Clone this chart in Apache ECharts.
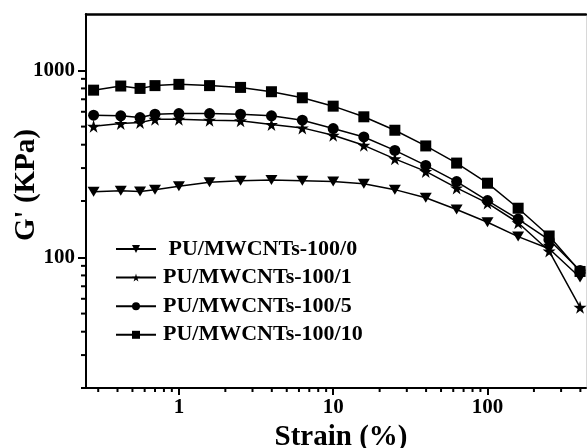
<!DOCTYPE html>
<html><head><meta charset="utf-8">
<script src="https://cdn.jsdelivr.net/npm/echarts@6/dist/echarts.min.js"></script>
<style>html,body{margin:0;padding:0;background:#fff}#c{width:587px;height:448px}</style>
</head><body><div id="c"></div>
<script>
// ---- data ----
const strain = [0.28, 0.42, 0.56, 0.70, 1.0, 1.58, 2.51, 3.98, 6.31, 10, 15.8, 25.1, 39.8, 63.1, 100, 158, 251, 398];
const g_100_0  = [224, 227, 225, 230, 240, 252, 257, 259, 257, 254, 247, 230, 208, 180, 154, 129, 111, 78];
const g_100_1  = [502, 519, 525, 547, 547, 541, 537, 513, 492, 449, 397, 336, 288, 235, 195, 153, 108, 54];
const g_100_5  = [575, 571, 559, 582, 587, 587, 582, 571, 541, 488, 440, 373, 310, 254, 201, 160, 124, 85];
const g_100_10 = [783, 824, 800, 828, 841, 828, 810, 768, 713, 643, 564, 478, 394, 319, 249, 183, 130, 84];
const seriesNames = ['PU/MWCNTs-100/0', 'PU/MWCNTs-100/1', 'PU/MWCNTs-100/5', 'PU/MWCNTs-100/10'];
const xMajorTicks = [1, 10, 100];
const xMinorTicks = [0.3, 0.4, 0.5, 0.6, 0.7, 0.8, 0.9, 2, 3, 4, 5, 6, 7, 8, 9, 20, 30, 40, 50, 60, 70, 80, 90, 200, 300, 400];
const yMajorTicks = [100, 1000];
const yMinorTicks = [20, 30, 40, 50, 60, 70, 80, 90, 200, 300, 400, 500, 600, 700, 800, 900];
const xRange = [0.25, 435];
const yRange = [20, 2000];
const xTitle = 'Strain (%)';
const yTitle = "G' (KPa)";

// ---- chart ----
const FONT = '"Liberation Serif", "Times New Roman", serif';
const starPath = 'path://M50,0 L61,35 L98,35 L68,57 L79,91 L50,70 L21,91 L32,57 L2,35 L39,35 Z';
const symbols = [
  {symbol: 'triangle', symbolSize: [12, 10], symbolRotate: 180},
  {symbol: starPath, symbolSize: 13, symbolRotate: 0},
  {symbol: 'circle', symbolSize: 11, symbolRotate: 0},
  {symbol: 'rect', symbolSize: 11, symbolRotate: 0}
];
const allData = [g_100_0, g_100_1, g_100_5, g_100_10];

const labelStyle = {fontFamily: FONT, fontWeight: 'bold', fontSize: 21, color: '#000'};
const blackLine = {color: '#000', width: 2};
const plainNum = v => String(v);

function baseAxis(extra) {
  return Object.assign({
    type: 'log', logBase: 10,
    splitLine: {show: false},
    minorTick: {show: false},
    minorSplitLine: {show: false}
  }, extra);
}

const chart = echarts.init(document.getElementById('c'), null, {renderer: 'canvas'});
chart.setOption({
  animation: false,
  backgroundColor: '#fff',
  grid: {left: 86, top: 14, right: 1, bottom: 60, containLabel: false, outerBoundsMode: 'none'},
  legend: {
    orient: 'vertical', left: 110, top: 233,
    itemWidth: 40, itemHeight: 10, itemGap: 6.6,
    selectedMode: false,
    textStyle: {fontFamily: FONT, fontWeight: 'bold', fontSize: 22, color: '#000', padding: [0, 0, 0, 2]},
    formatter: n => (n === seriesNames[0] ? ' ' + n : n),
    data: seriesNames
  },
  xAxis: [
    baseAxis({
      min: xRange[0], max: xRange[1], position: 'bottom',
      name: xTitle, nameLocation: 'middle', nameGap: 34,
      nameTextStyle: {fontFamily: FONT, fontWeight: 'bold', fontSize: 29, color: '#000', padding: [0, 0, 0, 10]},
      axisLine: {onZero: false, lineStyle: blackLine},
      axisTick: {customValues: xMajorTicks, length: 7, lineStyle: blackLine},
      axisLabel: Object.assign({customValues: xMajorTicks, margin: 9, formatter: plainNum}, labelStyle)
    }),
    baseAxis({
      min: xRange[0], max: xRange[1], position: 'top',
      axisLine: {onZero: false, lineStyle: {color: '#000', width: 2.5}},
      axisTick: {show: false},
      axisLabel: {show: false}
    })
  ],
  yAxis: [
    baseAxis({
      min: yRange[0], max: yRange[1], position: 'left',
      name: yTitle, nameLocation: 'middle', nameGap: 45, nameMoveOverlap: false,
      nameTextStyle: {fontFamily: FONT, fontWeight: 'bold', fontSize: 29, color: '#000', padding: [0, 0, 0, 32]},
      axisLine: {onZero: false, lineStyle: blackLine},
      axisTick: {customValues: yMajorTicks, length: 8, lineStyle: blackLine},
      axisLabel: Object.assign({customValues: yMajorTicks, margin: 11, formatter: plainNum}, labelStyle)
    }),
    baseAxis({
      min: yRange[0], max: yRange[1], position: 'right',
      axisLine: {onZero: false, lineStyle: {color: '#d8d8d8', width: 1}},
      axisTick: {show: false},
      axisLabel: {show: false}
    })
  ],
  series: seriesNames.map((name, i) => ({
    name: name,
    type: 'line',
    xAxisIndex: 0, yAxisIndex: 0,
    data: strain.map((x, j) => [x, allData[i][j]]),
    symbol: symbols[i].symbol,
    symbolSize: symbols[i].symbolSize,
    symbolRotate: symbols[i].symbolRotate,
    showAllSymbol: true,
    lineStyle: {color: '#000', width: 1.5},
    itemStyle: {color: '#000', borderWidth: 0},
    z: 2 + i
  }))
});

// minor ticks: positions come from the axes' own log scales
const elements = [];
xMinorTicks.forEach(v => {
  const p = chart.convertToPixel({gridIndex: 0}, [v, yRange[0]]);
  elements.push({type: 'line', silent: true, z: 10,
    shape: {x1: p[0], y1: p[1], x2: p[0], y2: p[1] + 4},
    style: {stroke: '#000', lineWidth: 2}});
});
yMinorTicks.forEach(v => {
  const p = chart.convertToPixel({gridIndex: 0}, [xRange[0], v]);
  elements.push({type: 'line', silent: true, z: 10,
    shape: {x1: p[0], y1: p[1], x2: p[0] - 5, y2: p[1]},
    style: {stroke: '#000', lineWidth: 2}});
});
chart.setOption({graphic: {elements: elements}});
</script></body></html>
